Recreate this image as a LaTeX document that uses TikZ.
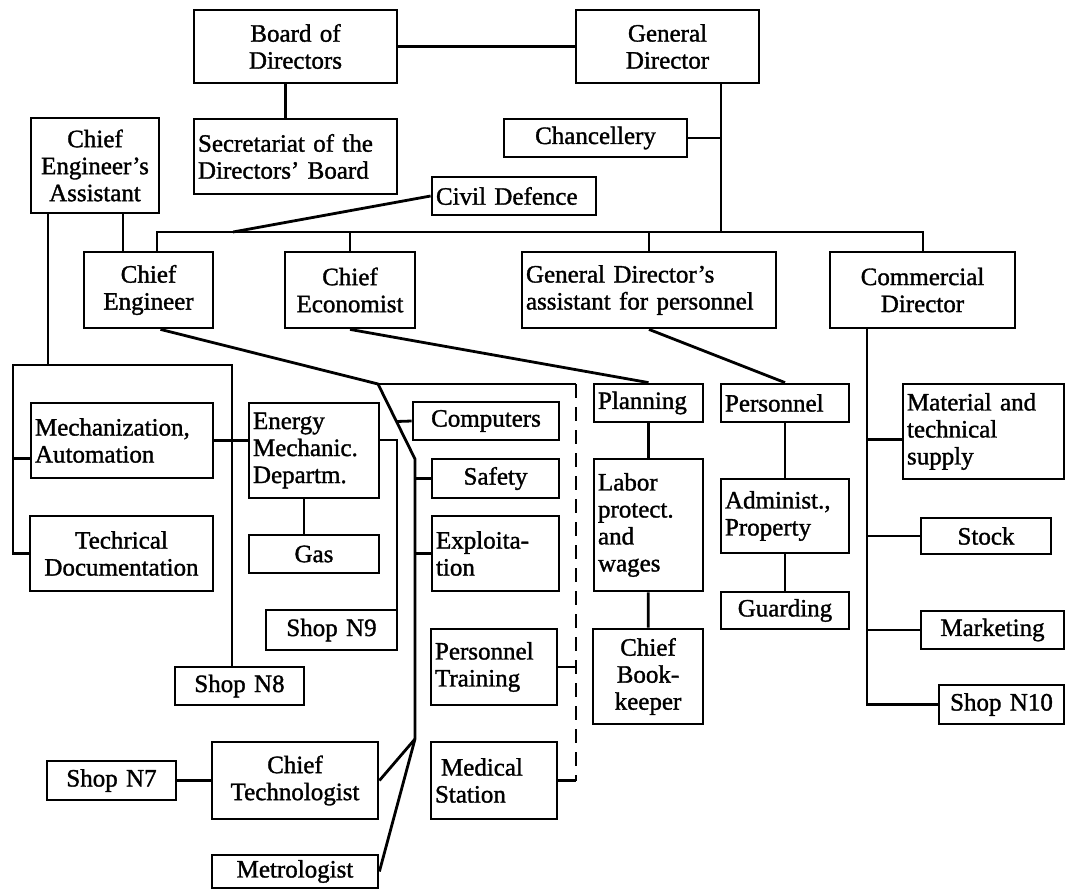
\documentclass[tikz,border=0pt]{standalone}
\usepackage{fontspec}
\setmainfont{Liberation Serif}[FakeBold=1.3]
\usepackage{tikz}
\usetikzlibrary{positioning,calc}

\begin{document}
\begin{tikzpicture}[x=1pt,y=-1pt,line width=2.8pt,
    unitbox/.style={draw, inner xsep=4pt, inner ysep=2pt, font=\fontsize{25}{27}\selectfont},
    dashlink/.style={dash pattern=on 14pt off 9pt}]
  \useasboundingbox (0,0) rectangle (1066,892);
  % top management
  \node[unitbox, text width=195pt, minimum height=73pt, align=center] (board) at (295.5,46.5) {Board of\\Directors};
  \node[unitbox, text width=175pt, minimum height=73pt, align=center] (gd) at (667.5,46.5) {General\\Director};
  \node[unitbox, text width=195pt, minimum height=75pt, align=left] (secr) at (295.5,156.5) {Secretariat of the\\Directors' Board};
  \node[unitbox, text width=120pt, minimum height=95pt, align=center] (cea) at (95,165.5) {Chief\\Engineer's\\Assistant};
  \node[unitbox, text width=175pt, minimum height=38pt, align=center] (chanc) at (595.5,138) {Chancellery};
  \node[unitbox, text width=156pt, minimum height=38pt, align=left] (civil) at (514,196) {Civil Defence};
  % second level
  \node[unitbox, text width=121pt, minimum height=76pt, align=center] (ce) at (148.5,290) {Chief\\Engineer};
  \node[unitbox, text width=122pt, minimum height=76pt, align=center] (econ) at (350,290) {Chief\\Economist};
  \node[unitbox, text width=246pt, minimum height=76pt, align=left] (gda) at (649,290) {General Director's\\assistant for personnel};
  \node[unitbox, text width=177pt, minimum height=76pt, align=center] (comd) at (922.5,290) {Commercial\\Director};
  % chief engineer's side
  \node[unitbox, text width=174pt, minimum height=75pt, align=left] (mech) at (122,440.5) {Mechanization,\\Automation};
  \node[unitbox, text width=175pt, minimum height=75pt, align=center] (techdoc) at (121.5,553.5) {Techrical\\Documentation};
  \node[unitbox, text width=122pt, minimum height=95pt, align=left] (energy) at (314,450.5) {Energy\\Mechanic.\\Departm.};
  \node[unitbox, text width=122pt, minimum height=38pt, align=center] (gas) at (314,554) {Gas};
  \node[unitbox, text width=123pt, minimum height=40pt, align=center] (shop9) at (331.5,630) {Shop N9};
  \node[unitbox, text width=121pt, minimum height=38pt, align=center] (shop8) at (239.5,686) {Shop N8};
  \node[unitbox, text width=138pt, minimum height=38pt, align=center] (comp) at (486,421) {Computers};
  \node[unitbox, text width=119pt, minimum height=39pt, align=center] (safety) at (495.5,478.5) {Safety};
  \node[unitbox, text width=119pt, minimum height=75pt, align=left] (exploit) at (495.5,553.5) {Exploita-\\tion};
  \node[unitbox, text width=118pt, minimum height=76pt, align=left] (ptrain) at (494,667) {Personnel\\Training};
  \node[unitbox, text width=118pt, minimum height=77pt, align=left] (medic) at (494,780.5) {\hspace*{6pt}Medical\\Station};
  \node[unitbox, text width=121pt, minimum height=39pt, align=center] (shop7) at (111.5,780.5) {Shop N7};
  \node[unitbox, text width=158pt, minimum height=77pt, align=center] (ctech) at (295,780.5) {Chief\\Technologist};
  \node[unitbox, text width=158pt, minimum height=33pt, align=center] (metro) at (295,871.5) {Metrologist};
  % economist and personnel side
  \node[unitbox, text width=101pt, minimum height=38pt, align=left] (plan) at (648.5,403) {Planning};
  \node[unitbox, text width=101pt, minimum height=132pt, align=left] (labor) at (648.5,525) {Labor\\protect.\\and\\wages};
  \node[unitbox, text width=102pt, minimum height=95pt, align=center] (bookk) at (648,676.5) {Chief\\Book-\\keeper};
  \node[unitbox, text width=120pt, minimum height=38pt, align=left] (pers) at (785,403) {Personnel};
  \node[unitbox, text width=120pt, minimum height=74pt, align=left] (admin) at (785,516) {Administ.,\\Property};
  \node[unitbox, text width=120pt, minimum height=37pt, align=center] (guard) at (785,610.5) {Guarding};
  % commercial side
  \node[unitbox, text width=153pt, minimum height=95pt, align=left] (matsup) at (983.5,431.5) {Material and\\technical\\supply};
  \node[unitbox, text width=122pt, minimum height=36pt, align=center] (stock) at (986,536) {Stock};
  \node[unitbox, text width=135pt, minimum height=38pt, align=center] (market) at (992.5,630) {Marketing};
  \node[unitbox, text width=117pt, minimum height=39pt, align=center] (shop10) at (1001.5,704.5) {Shop N10};

  % bends
  \coordinate (gdbus) at (721,232);
  \coordinate (busl) at (157,232);
  \coordinate (busr) at (923,232);
  \coordinate (cdjoin) at (233,232);
  \coordinate (brtop) at (48,365);
  \coordinate (brl) at (13,365);
  \coordinate (brr) at (232,365);
  \coordinate (e9) at (397,440);
  \coordinate (cej) at (378,384);
  \coordinate (vtop) at (415,459);
  \coordinate (vbot) at (415,739);
  \coordinate (dtop) at (576,384);
  \coordinate (cvtop) at (867,328);

  \draw (board) -- (gd);
  \draw ([xshift=-10pt]board.south) -- ([xshift=-10pt]board.south |- secr.north);
  \draw (gd.south -| gdbus) -- (gdbus);
  \draw (chanc.east) -- (chanc.east -| gdbus);
  \draw (busl |- ce.north) -- (busl) -- (busr) -- (busr |- comd.north);
  \draw (econ.north) -- (econ.north |- busl);
  \draw (gda.north) -- (gda.north |- busl);
  \draw (civil.west) -- (cdjoin);
  \draw (cea.south -| 123,0) -- (ce.north -| 123,0);
  % chief engineer's assistant
  \draw (cea.south -| brtop) -- (brtop);
  \draw ([yshift=-18pt]mech.west) -| (brl) -- (brr) -- (brr |- shop8.north);
  \draw (techdoc.west) -| (brl);
  \draw (mech.east) -- (energy.west |- mech.east);
  \draw ([xshift=-10pt]energy.south) -- ([xshift=-10pt]gas.north);
  \draw (energy.east |- e9) -- (e9) -- (e9 |- shop9.north);
  % chief engineer
  \draw ([xshift=12pt]ce.south) -- (cej) -- (vtop) -- (vbot);
  \draw (cej) -- (dtop);
  \draw[dashlink] (dtop) -- (medic.east -| dtop);
  \draw (comp.west) -- ($(cej)!0.5!(vtop)$);
  \draw (safety.west) -- (safety.west -| vtop);
  \draw (exploit.west) -- (exploit.west -| vtop);
  \draw (ptrain.east) -- (ptrain.east -| dtop);
  \draw (medic.east) -- (medic.east -| dtop);
  \draw (vbot) -- (ctech.east);
  \draw (vbot) -- (metro.east);
  \draw (shop7) -- (ctech);
  % economist, personnel
  \draw (econ.south) -- (plan.north);
  \draw (gda.south) -- (pers.north);
  \draw (plan) -- (labor);
  \draw (labor) -- (bookk);
  \draw (pers) -- (admin);
  \draw (admin) -- (guard);
  % commercial director
  \draw (comd.south -| cvtop) -- (shop10.west -| cvtop) -- (shop10.west);
  \draw ([yshift=-8pt]matsup.west) -- ([yshift=-8pt]matsup.west -| cvtop);
  \draw (stock.west) -- (stock.west -| cvtop);
  \draw (market.west) -- (market.west -| cvtop);
\end{tikzpicture}
\end{document}
